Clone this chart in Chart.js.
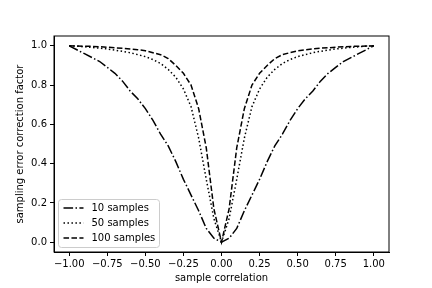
<!DOCTYPE html>
<html>
<head>
<meta charset="utf-8">
<script src="https://cdn.jsdelivr.net/npm/chart.js@4"></script>
<style>
  html, body { margin: 0; padding: 0; background: #fff; }
  #wrap { width: 432px; height: 288px; }
</style>
</head>
<body>
<div id="wrap"><canvas id="corr" width="432" height="288"></canvas></div>
<script>
// sample correlation grid (step 0.05)
const R = [
  -1.00, -0.95, -0.90, -0.85, -0.80, -0.75, -0.70, -0.65, -0.60, -0.55,
  -0.50, -0.45, -0.40, -0.35, -0.30, -0.25, -0.20, -0.15, -0.10, -0.05,
   0.00,
   0.05,  0.10,  0.15,  0.20,  0.25,  0.30,  0.35,  0.40,  0.45,  0.50,
   0.55,  0.60,  0.65,  0.70,  0.75,  0.80,  0.85,  0.90,  0.95,  1.00
];
const N10 = [
  1.00, 0.98, 0.96, 0.94, 0.92, 0.89, 0.86, 0.82, 0.77, 0.73,
  0.68, 0.62, 0.55, 0.49, 0.41, 0.32, 0.24, 0.16, 0.07, 0.02,
  0.00,
  0.02, 0.07, 0.16, 0.24, 0.32, 0.41, 0.49, 0.55, 0.62, 0.68,
  0.73, 0.77, 0.82, 0.86, 0.89, 0.92, 0.94, 0.96, 0.98, 1.00
];
const N50 = [
  1.000, 0.998, 0.995, 0.992, 0.988, 0.984, 0.978, 0.972, 0.965, 0.955,
  0.945, 0.930, 0.910, 0.880, 0.840, 0.780, 0.690, 0.530, 0.320, 0.120,
  0.000,
  0.120, 0.320, 0.530, 0.690, 0.780, 0.840, 0.880, 0.910, 0.930, 0.945,
  0.955, 0.965, 0.972, 0.978, 0.984, 0.988, 0.992, 0.995, 0.998, 1.000
];
const N100 = [
  1.000, 0.999, 0.998, 0.997, 0.995, 0.993, 0.990, 0.988, 0.984, 0.980,
  0.975, 0.965, 0.955, 0.935, 0.900, 0.860, 0.800, 0.680, 0.480, 0.170,
  0.000,
  0.170, 0.480, 0.680, 0.800, 0.860, 0.900, 0.935, 0.955, 0.965, 0.975,
  0.980, 0.984, 0.988, 0.990, 0.993, 0.995, 0.997, 0.998, 0.999, 1.000
];
const LABELS = ['10 samples', '50 samples', '100 samples'];
const XTICKS = [-1, -0.75, -0.5, -0.25, 0, 0.25, 0.5, 0.75, 1];
const YTICKS = [0, 0.2, 0.4, 0.6, 0.8, 1.0];

const FONT = 'DejaVu Sans';
Chart.defaults.font.family = FONT;
Chart.defaults.font.size = 10;
Chart.defaults.color = '#000';

const pts = ys => R.map((x, i) => ({ x: x, y: ys[i] }));
const minus = s => s.replace('-', '\u2212');

// matplotlib-like frame + legend in the lower left of the plot
const frameLegend = {
  id: 'frameLegend',
  afterDraw(chart) {
    const { ctx, chartArea: a } = chart;
    ctx.save();
    ctx.strokeStyle = '#000';
    ctx.lineWidth = 1;
    ctx.strokeRect(a.left, a.top, a.right - a.left, a.bottom - a.top);

    const bx = a.left + 4.5, by = a.bottom - 52.5, bw = 101, bh = 48;
    ctx.beginPath();
    ctx.roundRect(bx, by, bw, bh, 3);
    ctx.fillStyle = 'rgba(255,255,255,0.8)';
    ctx.fill();
    ctx.strokeStyle = '#cccccc';
    ctx.stroke();

    ctx.font = '10px ' + FONT;
    ctx.textBaseline = 'middle';
    ctx.fillStyle = '#000';
    chart.data.datasets.forEach((ds, i) => {
      const yy = by + 8.5 + i * 15;
      ctx.beginPath();
      ctx.setLineDash(ds.borderDash);
      ctx.lineWidth = ds.borderWidth;
      ctx.strokeStyle = ds.borderColor;
      ctx.moveTo(bx + 5, yy);
      ctx.lineTo(bx + 25, yy);
      ctx.stroke();
      ctx.setLineDash([]);
      ctx.fillText(ds.label, bx + 33, yy);
    });
    ctx.restore();
  }
};

new Chart(document.getElementById('corr'), {
  type: 'line',
  data: {
    datasets: [
      { label: LABELS[0], data: pts(N10), borderDash: [9.6, 2.4, 1.5, 2.4] },
      { label: LABELS[1], data: pts(N50), borderDash: [1.5, 2.475] },
      { label: LABELS[2], data: pts(N100), borderDash: [5.55, 2.4] }
    ].map(d => Object.assign(d, {
      borderColor: '#000', borderWidth: 1.5, pointRadius: 0, tension: 0, fill: false
    }))
  },
  options: {
    responsive: false,
    animation: false,
    layout: { padding: { top: 36, right: 43, left: 0, bottom: 0 } },
    plugins: { legend: { display: false }, tooltip: { enabled: false } },
    scales: {
      x: {
        type: 'linear',
        min: -1.1,
        max: 1.1,
        afterBuildTicks: s => { s.ticks = XTICKS.map(v => ({ value: v })); },
        afterFit: s => { s.height = 36; },
        ticks: { maxRotation: 0, padding: 2, callback: v => minus(v.toFixed(2)) },
        grid: { drawOnChartArea: false, tickLength: 4, color: '#000' },
        border: { color: '#000' },
        title: { display: true, text: 'sample correlation', padding: { top: 0, bottom: 4 } }
      },
      y: {
        min: -0.05,
        max: 1.05,
        afterBuildTicks: s => { s.ticks = YTICKS.map(v => ({ value: v })); },
        afterFit: s => { s.width = 54; },
        ticks: { padding: 3, callback: v => minus(v.toFixed(1)) },
        grid: { drawOnChartArea: false, tickLength: 4, color: '#000' },
        border: { color: '#000' },
        title: { display: true, text: 'sampling error correction factor', padding: { top: 14, bottom: 4 } }
      }
    }
  },
  plugins: [frameLegend]
});
</script>
</body>
</html>
